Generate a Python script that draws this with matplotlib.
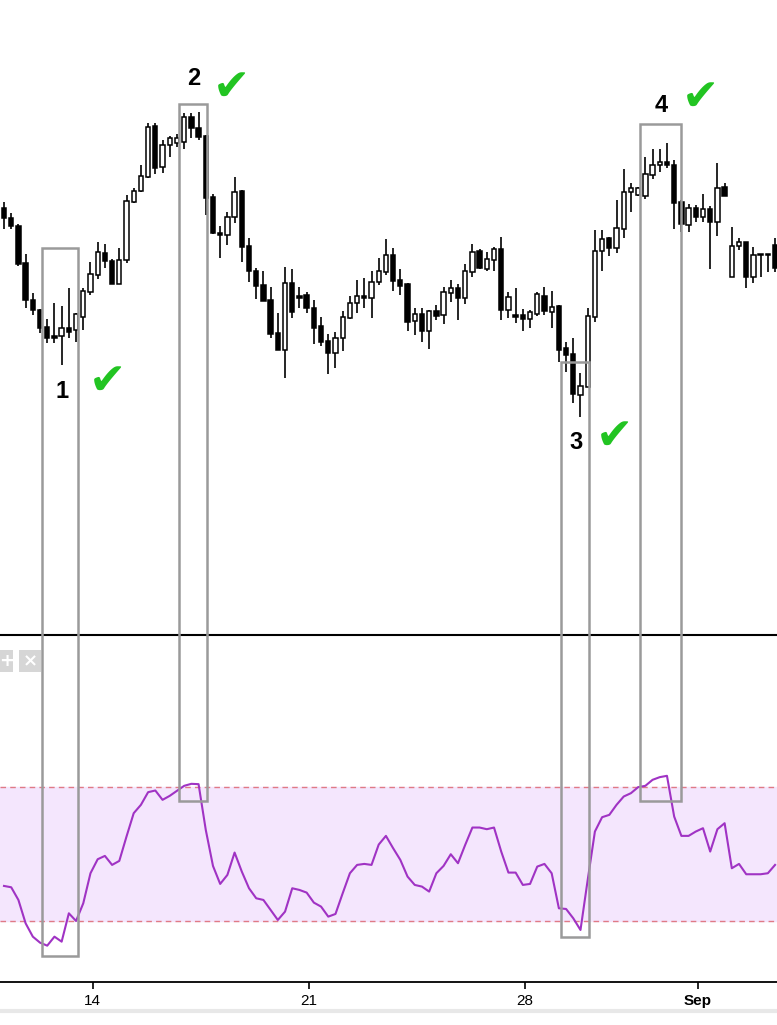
import numpy as np
import matplotlib
matplotlib.use("Agg")
import matplotlib.pyplot as plt
from matplotlib.patches import Rectangle
from matplotlib.lines import Line2D

plt.rcParams['font.family'] = ['Liberation Sans', 'DejaVu Sans']

# 4h candles, weekends skipped (Aug 10 -> Sep 4)
opens = [1.1792, 1.1782, 1.1774, 1.1737, 1.1700, 1.1690, 1.1673, 1.1664, 1.1664, 1.1672,
         1.1670, 1.1683, 1.1708, 1.1725, 1.1747, 1.1739, 1.1716, 1.1740, 1.1798, 1.1809,
         1.1823, 1.1874, 1.1833, 1.1855, 1.1857, 1.1858, 1.1883, 1.1872, 1.1864, 1.1803,
         1.1767, 1.1765, 1.1783, 1.1809, 1.1754, 1.1729, 1.1715, 1.1700, 1.1667, 1.1650,
         1.1717, 1.1704, 1.1705, 1.1692, 1.1674, 1.1659, 1.1647, 1.1662, 1.1682, 1.1697,
         1.1704, 1.1702, 1.1718, 1.1728, 1.1745, 1.1720, 1.1716, 1.1679, 1.1686, 1.1669,
         1.1689, 1.1685, 1.1707, 1.1712, 1.1702, 1.1728, 1.1749, 1.1731, 1.1740, 1.1751,
         1.1690, 1.1685, 1.1685, 1.1681, 1.1686, 1.1704, 1.1688, 1.1694, 1.1652, 1.1646,
         1.1605, 1.1613, 1.1683, 1.1749, 1.1762, 1.1752, 1.1771, 1.1808, 1.1805, 1.1804,
         1.1825, 1.1835, 1.1838, 1.1835, 1.1798, 1.1775, 1.1792, 1.1783, 1.1791, 1.1778,
         1.1813, 1.1723, 1.1754, 1.1758, 1.1723, 1.1745, 1.1745, 1.1755]
highs = [1.1798, 1.1787, 1.1776, 1.1746, 1.1707, 1.1691, 1.1681, 1.1697, 1.1694, 1.1712,
         1.1687, 1.1712, 1.1738, 1.1758, 1.1756, 1.1741, 1.1752, 1.1805, 1.1812, 1.1835,
         1.1877, 1.1877, 1.1860, 1.1864, 1.1866, 1.1887, 1.1887, 1.1888, 1.1865, 1.1806,
         1.1774, 1.1788, 1.1823, 1.1810, 1.1762, 1.1732, 1.1729, 1.1713, 1.1687, 1.1733,
         1.1731, 1.1713, 1.1708, 1.1700, 1.1683, 1.1666, 1.1668, 1.1689, 1.1704, 1.1720,
         1.1722, 1.1729, 1.1742, 1.1761, 1.1752, 1.1731, 1.1717, 1.1692, 1.1692, 1.1690,
         1.1695, 1.1713, 1.1720, 1.1716, 1.1736, 1.1756, 1.1751, 1.1748, 1.1753, 1.1763,
         1.1708, 1.1712, 1.1691, 1.1690, 1.1708, 1.1713, 1.1709, 1.1695, 1.1658, 1.1662,
         1.1627, 1.1692, 1.1770, 1.1770, 1.1763, 1.1800, 1.1831, 1.1817, 1.1813, 1.1843,
         1.1851, 1.1851, 1.1857, 1.1840, 1.1800, 1.1796, 1.1795, 1.1806, 1.1794, 1.1837,
         1.1817, 1.1773, 1.1762, 1.1758, 1.1753, 1.1746, 1.1746, 1.1762]
lows = [1.1771, 1.1771, 1.1734, 1.1692, 1.1685, 1.1667, 1.1657, 1.1657, 1.1635, 1.1662,
        1.1658, 1.1670, 1.1705, 1.1721, 1.1732, 1.1716, 1.1716, 1.1737, 1.1797, 1.1808,
        1.1822, 1.1826, 1.1827, 1.1843, 1.1853, 1.1851, 1.1862, 1.1860, 1.1785, 1.1766,
        1.1742, 1.1755, 1.1777, 1.1738, 1.1718, 1.1701, 1.1699, 1.1662, 1.1650, 1.1622,
        1.1682, 1.1692, 1.1687, 1.1656, 1.1654, 1.1626, 1.1632, 1.1649, 1.1681, 1.1687,
        1.1692, 1.1682, 1.1715, 1.1725, 1.1709, 1.1705, 1.1669, 1.1665, 1.1658, 1.1651,
        1.1680, 1.1676, 1.1698, 1.1680, 1.1696, 1.1723, 1.1731, 1.1729, 1.1729, 1.1680,
        1.1682, 1.1677, 1.1669, 1.1672, 1.1684, 1.1685, 1.1672, 1.1638, 1.1628, 1.1597,
        1.1583, 1.1613, 1.1678, 1.1729, 1.1744, 1.1747, 1.1762, 1.1788, 1.1804, 1.1801,
        1.1821, 1.1828, 1.1832, 1.1771, 1.1768, 1.1768, 1.1778, 1.1778, 1.1731, 1.1764,
        1.1804, 1.1723, 1.1750, 1.1712, 1.1717, 1.1723, 1.1728, 1.1728]
closes = [1.1782, 1.1774, 1.1736, 1.1700, 1.1690, 1.1672, 1.1662, 1.1662, 1.1672, 1.1668,
          1.1686, 1.1709, 1.1726, 1.1748, 1.1739, 1.1716, 1.1740, 1.1799, 1.1809, 1.1824,
          1.1873, 1.1832, 1.1855, 1.1862, 1.1862, 1.1883, 1.1872, 1.1863, 1.1802, 1.1767,
          1.1765, 1.1783, 1.1808, 1.1753, 1.1729, 1.1714, 1.1699, 1.1666, 1.1650, 1.1717,
          1.1688, 1.1702, 1.1692, 1.1672, 1.1658, 1.1647, 1.1662, 1.1683, 1.1697, 1.1704,
          1.1702, 1.1718, 1.1729, 1.1745, 1.1719, 1.1714, 1.1678, 1.1686, 1.1669, 1.1689,
          1.1684, 1.1708, 1.1712, 1.1702, 1.1729, 1.1748, 1.1732, 1.1741, 1.1751, 1.1690,
          1.1703, 1.1683, 1.1681, 1.1688, 1.1706, 1.1689, 1.1693, 1.1650, 1.1645, 1.1606,
          1.1614, 1.1684, 1.1749, 1.1761, 1.1752, 1.1772, 1.1808, 1.1812, 1.1812, 1.1826,
          1.1835, 1.1838, 1.1835, 1.1797, 1.1776, 1.1792, 1.1783, 1.1791, 1.1778, 1.1812,
          1.1804, 1.1754, 1.1758, 1.1723, 1.1745, 1.1746, 1.1746, 1.1732]

# RSI(14), one value per candle
rsi = [40.4, 40.0, 36.2, 29.2, 25.2, 23.4, 22.5, 25.2, 23.7, 32.2,
       29.9, 35.2, 44.2, 48.4, 49.4, 46.7, 47.9, 55.2, 62.2, 64.7,
       68.5, 69.0, 66.2, 67.4, 68.9, 70.4, 71.0, 70.9, 57.2, 46.4,
       41.0, 43.7, 50.4, 44.7, 39.7, 36.7, 36.2, 33.2, 30.2, 32.7,
       39.7, 39.2, 38.4, 35.4, 34.2, 31.2, 32.0, 38.2, 44.2, 46.7,
       47.0, 46.7, 52.8, 55.4, 51.7, 48.2, 43.2, 40.7, 40.2, 38.7,
       44.2, 46.4, 49.9, 47.2, 52.7, 57.9, 57.9, 57.4, 57.9, 50.7,
       44.4, 44.4, 40.7, 41.0, 46.2, 47.0, 44.2, 33.7, 33.5, 30.7,
       27.2, 42.2, 56.7, 61.0, 61.7, 64.7, 67.2, 68.2, 70.0, 70.4,
       72.2, 73.0, 73.4, 61.2, 55.4, 55.4, 56.7, 57.7, 50.7, 57.4,
       59.2, 45.7, 47.0, 43.9, 43.9, 43.9, 44.2, 46.7]

# first candle of each labelled day
tick_idx = [12, 42, 72, 96]
tick_labels = ['14', '21', '28', 'Sep']

# highlighted zones: left, right (candle index), top (price), bottom (rsi)
zones = [(5.3, 10.3, 1.1752, 19.4),
         (24.3, 28.2, 1.1896, 66.0),
         (77.3, 81.2, 1.16385, 25.2),
         (88.3, 93.9, 1.18757, 66.0)]
# number label (x, price) and tick mark (x, price)
marks = [('1', 8.0, 1.1608, 14.4, 1.1619),
         ('2', 26.3, 1.1922, 31.6, 1.1913),
         ('3', 79.4, 1.1558, 84.7, 1.1564),
         ('4', 91.2, 1.1895, 96.6, 1.1903)]

W, H = 777, 1025
fig = plt.figure(figsize=(W / 100, H / 100), dpi=100)
top_px, sep_px, bot_px = 0, 635, 981.7
ax = fig.add_axes([0, 1 - sep_px / H, 1, (sep_px - top_px) / H])
ax2 = fig.add_axes([0, 1 - bot_px / H, 1, (bot_px - sep_px) / H])

x = np.arange(len(opens))
o = np.array(opens)
hi = np.array(highs)
lo = np.array(lows)
c = np.array(closes)

xlim = (-0.555, 107.27)

# candles
ax.vlines(x, lo, hi, color='black', lw=1.2, zorder=2)
up = c >= o
body_bot = np.minimum(o, c)
body_h = np.maximum(np.abs(c - o), 0.00008)
ax.bar(x[up], body_h[up], bottom=body_bot[up], width=0.6, color='white',
       edgecolor='black', linewidth=1.1, zorder=3)
ax.bar(x[~up], body_h[~up], bottom=body_bot[~up], width=0.6, color='black',
       edgecolor='black', linewidth=1.1, zorder=3)
ax.set_xlim(*xlim)
ax.set_ylim(1.1365, 1.2000)
ax.axis('off')

# rsi panel
ax2.axhspan(30, 70, color='#f4e6fd', zorder=0)
ax2.axhline(70, color='#e07a86', lw=1, ls=(0, (4, 3)), zorder=1)
ax2.axhline(30, color='#e07a86', lw=1, ls=(0, (4, 3)), zorder=1)
ax2.plot(x, rsi, color='#a033c4', lw=1.5, zorder=2)
ax2.set_xlim(*xlim)
ax2.set_ylim(11.7, 115.6)
for s in ['left', 'right']:
    ax2.spines[s].set_visible(False)
ax2.spines['top'].set_linewidth(1.5)
ax2.spines['bottom'].set_linewidth(1.3)
ax2.set_yticks([])
ax2.set_xticks(np.array(tick_idx) + 0.3)
ax2.set_xticklabels(tick_labels, fontsize=11)
ax2.get_xticklabels()[-1].set_fontweight('bold')
ax2.tick_params(axis='x', length=5, width=1.2, pad=4)

# zone boxes spanning both panels
inv = fig.transFigure.inverted()
for left, right, ptop, rbot in zones:
    tl = inv.transform(ax.transData.transform((left, ptop)))
    br = inv.transform(ax2.transData.transform((right, rbot)))
    fig.add_artist(Rectangle((tl[0], br[1]), br[0] - tl[0], tl[1] - br[1],
                             transform=fig.transFigure, fill=False,
                             ec='#9a9a9a', lw=1.8, zorder=10))

for num, nx, ny, cx, cy in marks:
    ax.text(nx, ny, num, fontsize=17, fontweight='bold', ha='center',
            va='center', zorder=11)
    ax.text(cx, cy, '\u2714', fontsize=32, color='#22c422', ha='center',
            va='center', family=['DejaVu Sans'], zorder=11)

# little panel buttons
for bx0, bx1, sym in [(0, 13, '+'), (19, 41, '\u00d7')]:
    fig.add_artist(Rectangle((bx0 / W, 1 - 672 / H), (bx1 - bx0) / W, 22 / H,
                             transform=fig.transFigure, color='#d6d6d6', lw=0))
    fig.text((bx0 + bx1) / 2 / W, 1 - 661 / H, sym, color='white', fontsize=13,
             fontweight='bold', ha='center', va='center', family=['DejaVu Sans'])

fig.add_artist(Line2D([0, 1], [1 - 1011 / H] * 2, transform=fig.transFigure,
                      color='#e8e8e8', lw=3))

fig.savefig('out.png', dpi=100)
